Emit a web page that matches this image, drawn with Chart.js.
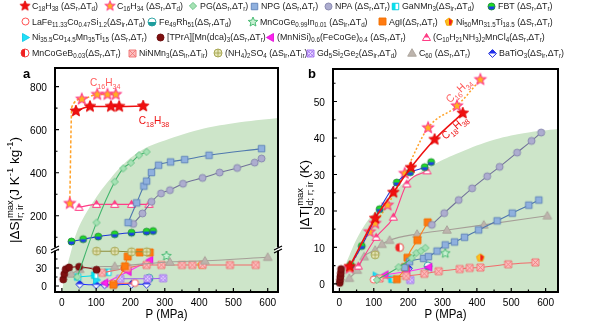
<!DOCTYPE html>
<html>
<head>
<meta charset="utf-8">
<script src="https://cdn.jsdelivr.net/npm/chart.js@4/dist/chart.umd.min.js"></script>
<style>
html,body{margin:0;padding:0;background:#fff;}
#wrap{position:relative;width:600px;height:328px;overflow:hidden;font-family:"Liberation Sans",Arial,sans-serif;}
#wrap canvas.chart{position:absolute;left:0;top:0;}
.lg{position:absolute;font-size:9.8px;line-height:11px;white-space:nowrap;color:#1a1a1a;transform:scaleX(0.9);transform-origin:0 50%;}
.lg sub{font-size:6.9px;vertical-align:-2px;line-height:0;}
.mk{position:absolute;}
</style>
</head>
<body>
<div id="wrap">
  <canvas id="ca" class="chart" width="600" height="328"></canvas>
  <canvas id="cb" class="chart" width="600" height="328"></canvas>
</div>
<script>
// ===================== data =====================
// Panel a: |ΔS| (J K^-1 kg^-1) vs pressure P (MPa)
const ENV_A_P = [0, 10, 28, 45, 70, 100, 130, 180, 236, 300, 400, 500, 640];
const ENV_A_V = [-10, 20, 60, 130, 210, 285, 350, 440, 508, 550, 600, 630, 656];

const C18H38_A_P = [41, 82, 143, 167, 237];
const C18H38_A_V = [687, 708, 708, 708, 710];
const C16H34_A_P = [23, 58, 103, 133, 157];
const C16H34_A_V = [257, 742, 764, 764, 764];
const C16H34_A_PATH_P = [23, 29, 58, 103, 133, 157];
const C16H34_A_PATH_V = [257, 705, 742, 764, 764, 764];
const PG_A_P = [45, 101, 154, 179, 201, 225, 247];
const PG_A_V = [15, 168, 358, 420, 446, 481, 497];
const NPG_A_P = [193, 218, 239, 247, 261, 282, 317, 358, 429, 582];
const NPG_A_V = [168, 260, 338, 361, 401, 435, 450, 461, 481, 512];
const NPA_A_P = [208, 235, 261, 289, 315, 353, 410, 460, 511, 562, 582];
const NPA_A_V = [162, 211, 265, 304, 319, 349, 376, 401, 422, 447, 466];
const FBT_A_P = [28, 62, 106, 154, 203, 247, 266];
const FBT_A_V = [80, 91, 103, 114, 121, 126, 129];
const MNCL_A_P = [50, 101, 154, 203, 254];
const MNCL_A_V = [239, 253, 253, 253, 253];
const TPRA_A_P = [4, 7, 11, 21, 50, 101];
const TPRA_A_V = [11, 20, 28, 31, 32, 27];
const NH4_A_P = [101, 154, 203, 247];
const NH4_A_V = [58, 58, 57, 57];
const AGI_A_P = [150, 184, 192, 227, 256];
const AGI_A_V = [2, 33, 49, 56, 56];
const C60_A_P = [28, 52, 154, 315, 417, 600];
const C60_A_V = [20, 28, 33, 40, 42, 48];
const NINMN3_A_P = [117, 190, 247, 290, 350, 380, 410, 490, 565];
const NINMN3_A_V = [22, 30, 35, 35, 35, 35, 35, 35, 35];
const MNCOGEB_A_P = [184];
const MNCOGEB_A_V = [30];
const NI50_A_P = [407];
const NI50_A_V = [35];
const MNCOGE_A_P = [305];
const MNCOGE_A_V = [50];
const FERH_A_P = [254];
const FERH_A_V = [13];
const GD_A_P = [170, 250, 295];
const GD_A_V = [12, 12, 13];
const LAFE_A_P = [150, 213];
const LAFE_A_V = [4, 5];
const GANMN3_A_P = [46, 96, 134];
const GANMN3_A_V = [15, 18, 23];
const NICO_A_P = [101];
const NICO_A_V = [10];
const MNNISI_A_P = [125, 193, 256];
const MNNISI_A_V = [5, 24, 43];
const BATIO3_A_P = [52, 100, 125, 154, 203, 247];
const BATIO3_A_V = [3, 2, 2, 2, 3, 3];

const TICKS_A_Y = [0, 30, 60, 200, 400, 600, 800];
const MINOR_A_Y = [15, 45, 100, 300, 500, 700];

// Panel b: |ΔT| (K) vs pressure P (MPa)
const ENV_B_P = [0, 10, 30, 60, 100, 150, 200, 274, 350, 450, 550, 640];
const ENV_B_V = [-2, 3, 8, 14, 19.5, 24.5, 28.5, 32.7, 36, 39.5, 41.5, 42.5];

const C18H38_B_P = [30, 104, 157, 208, 277, 359];
const C18H38_B_V = [4.8, 18, 25.1, 31.9, 39.6, 46.8];
const C16H34_B_P = [30, 88, 104, 140, 190, 258, 342, 410];
const C16H34_B_V = [4.3, 14.3, 16.6, 21.6, 30.3, 42.8, 48.8, 56];
const PG_B_P = [109, 172, 210, 224, 237, 250];
const PG_B_V = [1.1, 4.6, 7.1, 8.5, 9.0, 9.9];
const NPG_B_P = [190, 204, 245, 259, 284, 308, 335, 364, 405, 459, 503, 551, 580];
const NPG_B_V = [4.5, 6.1, 7.0, 7.5, 9.0, 10.7, 11.5, 12.8, 14.8, 17.3, 19.4, 21.6, 23.0];
const NPA_B_P = [269, 305, 347, 386, 430, 466, 517, 559, 587];
const NPA_B_V = [16.2, 19.4, 23, 26.2, 29.5, 32.1, 36, 39.2, 41.5];
const FBT_B_P = [33, 65, 117, 167, 206, 248, 267];
const FBT_B_V = [5.2, 10.4, 20.5, 27.8, 30.6, 32, 33.4];
const MNCL_B_P = [55, 107, 157, 196, 255];
const MNCL_B_V = [4.9, 12.8, 18.3, 27.4, 31];
const TPRA_B_P = [1, 2, 3, 4, 5];
const TPRA_B_V = [0.3, 1.2, 2.1, 3.0, 4.1];
const NH4_B_P = [104];
const NH4_B_V = [8];
const AGI_B_P = [167, 191, 198, 227, 257];
const AGI_B_V = [1.3, 4.6, 7.2, 12, 16.9];
const C60_B_P = [29, 52, 72, 104, 124, 146, 226, 313, 420, 605];
const C60_B_V = [1.6, 3.8, 7.5, 9.3, 10.9, 12, 13.7, 14.8, 16.2, 18.7];
const NINMN3_B_P = [117, 194, 247, 289, 350, 379, 410, 491, 570];
const NINMN3_B_V = [1.5, 2.2, 2.8, 3.5, 4.1, 4.4, 4.5, 5.4, 5.9];
const MNCOGEB_B_P = [175];
const MNCOGEB_B_V = [10];
const NI50_B_P = [410];
const NI50_B_V = [7.2];
const MNCOGE_B_P = [308];
const MNCOGE_B_V = [8.4];
const FERH_B_P = [258];
const FERH_B_V = [4.9];
const GD_B_P = [206];
const GD_B_V = [1.1];
const LAFE_B_P = [100];
const LAFE_B_V = [1.2];
const GANMN3_B_P = [153];
const GANMN3_B_V = [1.3];
const NICO_B_P = [107];
const NICO_B_V = [2.2];
const MNNISI_B_P = [133, 196, 260];
const MNNISI_B_V = [2.5, 3.4, 4.6];
const BATIO3_B_P = [201];
const BATIO3_B_V = [4.3];

const TICKS_B_Y = [0, 10, 20, 30, 40, 50];
const TICKS_X = [0, 100, 200, 300, 400, 500, 600];

// ===================== markers =====================
function shapePath(g, kind, cx, cy, r) {
  g.beginPath();
  if (kind === 'circle') { g.arc(cx, cy, r, 0, Math.PI * 2); }
  else if (kind === 'square') { g.rect(cx - r, cy - r, 2 * r, 2 * r); }
  else if (kind === 'diamond') { g.moveTo(cx, cy - r * 1.2); g.lineTo(cx + r * 1.2, cy); g.lineTo(cx, cy + r * 1.2); g.lineTo(cx - r * 1.2, cy); g.closePath(); }
  else if (kind === 'triUp') { g.moveTo(cx, cy - r * 1.15); g.lineTo(cx + r * 1.15, cy + r * 0.85); g.lineTo(cx - r * 1.15, cy + r * 0.85); g.closePath(); }
  else if (kind === 'triLeft') { g.moveTo(cx - r * 1.15, cy); g.lineTo(cx + r * 0.85, cy - r * 1.15); g.lineTo(cx + r * 0.85, cy + r * 1.15); g.closePath(); }
  else if (kind === 'triRight') { g.moveTo(cx + r * 1.15, cy); g.lineTo(cx - r * 0.85, cy - r * 1.15); g.lineTo(cx - r * 0.85, cy + r * 1.15); g.closePath(); }
  else if (kind === 'pentagon' || kind === 'star') {
    const steps = kind === 'star' ? 10 : 5;
    for (let i = 0; i < steps; i++) {
      const a = -Math.PI / 2 + i * Math.PI * 2 / steps;
      const rr = (kind === 'star' && i % 2 === 1) ? r * 0.45 : r;
      const x = cx + rr * Math.cos(a), y = cy + rr * Math.sin(a);
      if (i === 0) g.moveTo(x, y); else g.lineTo(x, y);
    }
    g.closePath();
  }
}

function marker(o) {
  const size = o.size || 7;
  const c = document.createElement('canvas');
  const dim = Math.ceil(size + 4);
  c.width = c.height = dim;
  const g = c.getContext('2d');
  const cx = dim / 2, cy = dim / 2, r = size / 2;
  shapePath(g, o.kind, cx, cy, r);
  g.fillStyle = o.fill || '#fff';
  g.fill();
  if (o.half) {
    g.save();
    shapePath(g, o.kind, cx, cy, r);
    g.clip();
    g.fillStyle = o.half.color;
    const d = o.half.side;
    if (d === 'bottom') g.fillRect(0, cy, dim, dim);
    if (d === 'top') g.fillRect(0, 0, dim, cy);
    if (d === 'left') g.fillRect(0, 0, cx, dim);
    if (d === 'right') g.fillRect(cx, 0, dim, dim);
    g.restore();
  }
  if (o.overlay) {
    g.save();
    shapePath(g, o.kind, cx, cy, r);
    g.clip();
    g.strokeStyle = o.stroke;
    g.lineWidth = 0.8;
    g.beginPath();
    if (o.overlay === 'x' || o.overlay === 'hatch') {
      const k = o.overlay === 'hatch' ? [-r, 0, r] : [0];
      k.forEach(s => {
        g.moveTo(cx - r + s, cy - r); g.lineTo(cx + r + s, cy + r);
        g.moveTo(cx + r + s, cy - r); g.lineTo(cx - r + s, cy + r);
      });
    }
    if (o.overlay === 'plus') {
      g.moveTo(cx - r, cy); g.lineTo(cx + r, cy);
      g.moveTo(cx, cy - r); g.lineTo(cx, cy + r);
    }
    g.stroke();
    g.restore();
  }
  shapePath(g, o.kind, cx, cy, r);
  g.strokeStyle = o.stroke || o.fill;
  g.lineWidth = o.lw || 0.9;
  g.stroke();
  return c;
}

const STY = {
  C18H38: { kind: 'star', size: 12, fill: '#f01010', stroke: '#e00000', line: '#ee1111' },
  C16H34: { kind: 'star', size: 11.5, fill: '#ffb020', stroke: '#ff3d8a', line: '#ffa126', lw: 1.1 },
  PG:     { kind: 'diamond', size: 6, fill: '#a6e2b4', stroke: '#62c081', line: '#42b56c' },
  NPG:    { kind: 'square', size: 6.5, fill: '#8fb0de', stroke: '#5b80b8', line: '#4f78ae' },
  NPA:    { kind: 'circle', size: 7, fill: '#adadcf', stroke: '#8585ad', line: '#72729a' },
  GANMN3: { kind: 'square', size: 6.5, fill: '#00e4f0', stroke: '#00c8dc', half: { side: 'right', color: '#ffffff' }, line: '#00dcec' },
  FBT:    { kind: 'circle', size: 7, fill: '#22dd22', stroke: '#1f8f3a', half: { side: 'bottom', color: '#1d3fe8' }, line: '#1d36d8' },
  LAFE:   { kind: 'circle', size: 7, fill: '#ffffff', stroke: '#ff4040', line: '#ff6060' },
  FERH:   { kind: 'circle', size: 8, fill: '#ffffff', stroke: '#1e9d9d', half: { side: 'bottom', color: '#1e9d9d' }, line: '#1e9d9d' },
  MNCOGE: { kind: 'star', size: 10, fill: '#c8f0d2', stroke: '#3cb56a', line: '#3cb56a' },
  AGI:    { kind: 'square', size: 7, fill: '#ff7a10', stroke: '#f07000', line: '#ff8020' },
  NI50:   { kind: 'pentagon', size: 8, fill: '#ffc020', stroke: '#f0a000', half: { side: 'right', color: '#f02020' }, line: '#f0a000' },
  NICO:   { kind: 'triRight', size: 7, fill: '#20e0f8', stroke: '#10c8e8', line: '#20e0f8' },
  TPRA:   { kind: 'circle', size: 7, fill: '#7e1010', stroke: '#6a0a0a', line: '#8a1a1a' },
  MNNISI: { kind: 'triLeft', size: 7, fill: '#ff22ee', stroke: '#e010d8', line: '#ff33f0' },
  MNCL:   { kind: 'triUp', size: 7, fill: '#ff3d88', stroke: '#ff2a78', half: { side: 'bottom', color: '#ffffff' }, line: '#ff3d88' },
  MNCOGEB:{ kind: 'circle', size: 8, fill: '#ffffff', stroke: '#f03030', half: { side: 'left', color: '#f02020' }, line: '#f03030' },
  NINMN3: { kind: 'square', size: 7, fill: '#fbc0c0', stroke: '#f07070', overlay: 'x', line: '#f26b6b' },
  NH4:    { kind: 'circle', size: 8, fill: '#e6e6b8', stroke: '#a0a048', overlay: 'plus', line: '#8e8e3c' },
  GD:     { kind: 'square', size: 7, fill: '#e8d8ff', stroke: '#a070f0', overlay: 'hatch', line: '#9a60f0' },
  C60:    { kind: 'triUp', size: 7.5, fill: '#bdb4ad', stroke: '#a8a098', line: '#a69e97' },
  BATIO3: { kind: 'diamond', size: 6.5, fill: '#2030f0', stroke: '#1020d8', half: { side: 'bottom', color: '#ffffff' }, line: '#2030ff' }
};
const IMG = {};
for (const k in STY) IMG[k] = marker(STY[k]);

// ===================== legend =====================
const LEGEND = [
  ['C18H38', 'C<sub>18</sub>H<sub>38</sub> (ΔS<sub>r</sub>,ΔT<sub>d</sub>)', 25, 6],
  ['C16H34', 'C<sub>16</sub>H<sub>34</sub> (ΔS<sub>r</sub>,ΔT<sub>d</sub>)', 110, 6],
  ['PG', 'PG(ΔS<sub>r</sub>,ΔT<sub>r</sub>)', 193, 6],
  ['NPG', 'NPG (ΔS<sub>r</sub>,ΔT<sub>r</sub>)', 254, 6],
  ['NPA', 'NPA (ΔS<sub>r</sub>,ΔT<sub>r</sub>)', 328, 6],
  ['GANMN3', 'GaNMn<sub>3</sub>(ΔS<sub>ir</sub>,ΔT<sub>d</sub>)', 395, 6],
  ['FBT', 'FBT (ΔS<sub>r</sub>,ΔT<sub>r</sub>)', 491, 6],
  ['LAFE', 'LaFe<sub>11.33</sub>Co<sub>0.47</sub>Si<sub>1.2</sub>(ΔS<sub>ir</sub>,ΔT<sub>d</sub>)', 25, 21.5],
  ['FERH', 'Fe<sub>49</sub>Rh<sub>51</sub>(ΔS<sub>r</sub>,ΔT<sub>d</sub>)', 152, 21.5],
  ['MNCOGE', 'MnCoGe<sub>0.99</sub>In<sub>0.01</sub> (ΔS<sub>ir</sub>,ΔT<sub>d</sub>)', 253, 21.5],
  ['AGI', 'AgI(ΔS<sub>r</sub>,ΔT<sub>r</sub>)', 382, 21.5],
  ['NI50', 'Ni<sub>50</sub>Mn<sub>31.5</sub>Ti<sub>18.5</sub> (ΔS<sub>r</sub>,ΔT<sub>r</sub>)', 449, 21.5],
  ['NICO', 'Ni<sub>35.5</sub>Co<sub>14.5</sub>Mn<sub>35</sub>Ti<sub>15</sub> (ΔS<sub>r</sub>,ΔT<sub>r</sub>)', 25, 37],
  ['TPRA', '[TPrA][Mn(dca)<sub>3</sub>(ΔS<sub>r</sub>,ΔT<sub>r</sub>)', 160, 37],
  ['MNNISI', '(MnNiSi)<sub>0.6</sub>(FeCoGe)<sub>0.4</sub> (ΔS<sub>r</sub>,ΔT<sub>r</sub>)', 270, 37],
  ['MNCL', '(C<sub>10</sub>H<sub>21</sub>NH<sub>3</sub>)<sub>2</sub>MnCl<sub>4</sub>(ΔS<sub>r</sub>,ΔT<sub>r</sub>)', 426, 37],
  ['MNCOGEB', 'MnCoGeB<sub>0.03</sub>(ΔS<sub>r</sub>,ΔT<sub>r</sub>)', 25, 53],
  ['NINMN3', 'NiNMn<sub>3</sub>(ΔS<sub>ir</sub>,ΔT<sub>ir</sub>)', 132, 53],
  ['NH4', '(NH<sub>4</sub>)<sub>2</sub>SO<sub>4</sub> (ΔS<sub>ir</sub>,ΔT<sub>ir</sub>)', 218, 53],
  ['GD', 'Gd<sub>5</sub>Si<sub>2</sub>Ge<sub>2</sub>(ΔS<sub>ir</sub>,ΔT<sub>d</sub>)', 310, 53],
  ['C60', 'C<sub>60</sub> (ΔS<sub>r</sub>,ΔT<sub>r</sub>)', 412, 53],
  ['BATIO3', 'BaTiO<sub>3</sub>(ΔS<sub>ir</sub>,ΔT<sub>r</sub>)', 492, 53]
];
const wrap = document.getElementById('wrap');
LEGEND.forEach(([key, html, x, y]) => {
  const src = IMG[key];
  const m = document.createElement('canvas');
  const s = key === 'C18H38' || key === 'C16H34' ? 0.85 : 1;
  m.width = src.width; m.height = src.height;
  m.getContext('2d').drawImage(src, 0, 0);
  m.className = 'mk';
  m.style.width = (src.width * s) + 'px';
  m.style.height = (src.height * s) + 'px';
  m.style.left = (x - src.width * s / 2) + 'px';
  m.style.top = (y - src.height * s / 2) + 'px';
  wrap.appendChild(m);
  const t = document.createElement('div');
  t.className = 'lg';
  t.innerHTML = html;
  t.style.left = (x + 7) + 'px';
  t.style.top = (y - 6) + 'px';
  wrap.appendChild(t);
});

// ===================== broken y scale =====================
const A_LOW = [-10, 63.3];   // lower segment of panel a
const A_HIGH = [50, 887];    // upper segment of panel a
const A_SPLIT = 44 / 224;    // share of plot height taken by the lower segment

class BrokenLinearScale extends Chart.LinearScale {
  getPixelForValue(v) {
    let d;
    if (v <= A_LOW[1]) d = (v - A_LOW[0]) / (A_LOW[1] - A_LOW[0]) * A_SPLIT;
    else d = A_SPLIT + (v - A_HIGH[0]) / (A_HIGH[1] - A_HIGH[0]) * (1 - A_SPLIT);
    return this.getPixelForDecimal(d);
  }
  getValueForPixel(p) {
    const d = this.getDecimalForPixel(p);
    if (d <= A_SPLIT) return A_LOW[0] + d / A_SPLIT * (A_LOW[1] - A_LOW[0]);
    return A_HIGH[0] + (d - A_SPLIT) / (1 - A_SPLIT) * (A_HIGH[1] - A_HIGH[0]);
  }
  buildTicks() { return TICKS_A_Y.map(v => ({ value: v })); }
}
BrokenLinearScale.id = 'brokenLinear';
BrokenLinearScale.defaults = Chart.LinearScale.defaults;
Chart.register(BrokenLinearScale);

// ===================== helpers =====================
const FONT = '"Liberation Sans", Arial, sans-serif';
const SX = 0.88;   // horizontal squeeze of the axis lettering

function pts(P, V) { return P.map((p, i) => ({ x: p, y: V[i] })); }
function series(key, P, V, extra) {
  const s = STY[key];
  return Object.assign({
    label: key,
    data: pts(P, V),
    showLine: true,
    borderColor: s.line,
    borderWidth: 1.1,
    pointStyle: IMG[key],
    pointRadius: 4,
    pointHoverRadius: 4,
    cubicInterpolationMode: 'monotone',
    order: 1
  }, extra || {});
}
function envelope(P, V) {
  return {
    label: 'envelope',
    data: pts(P, V),
    showLine: true,
    borderWidth: 0,
    borderColor: 'rgba(0,0,0,0)',
    backgroundColor: 'rgb(205,229,201)',
    fill: 'start',
    pointRadius: 0,
    tension: 0.4,
    order: 100
  };
}

// plain text squeezed horizontally
function sText(g, t, x, y, align) {
  const w = g.measureText(t).width * SX;
  const x0 = align === 'center' ? x - w / 2 : align === 'right' ? x - w : x;
  g.save();
  g.translate(x0, y);
  g.scale(SX, 1);
  g.textAlign = 'left';
  g.fillText(t, 0, 0);
  g.restore();
}

// text with sub/superscripts; parts: [text, mode], mode '', 'sub', 'sup' or {sup, sub}
function richText(g, parts, x, y, size, align, sx) {
  const small = size * 0.7;
  let w = 0;
  parts.forEach(([t, m]) => {
    if (typeof m === 'object' && m) {
      g.font = small + 'px ' + FONT;
      w += Math.max(g.measureText(m.sup).width, g.measureText(m.sub).width);
    } else {
      g.font = (m ? small : size) + 'px ' + FONT;
      w += g.measureText(t).width;
    }
  });
  g.save();
  g.translate(align === 'center' ? x - w * sx / 2 : x, y);
  g.scale(sx, 1);
  g.textBaseline = 'alphabetic';
  g.textAlign = 'left';
  let cx = 0;
  parts.forEach(([t, m]) => {
    if (typeof m === 'object' && m) {
      g.font = small + 'px ' + FONT;
      g.fillText(m.sup, cx, -size * 0.42);
      g.fillText(m.sub, cx, size * 0.3);
      cx += Math.max(g.measureText(m.sup).width, g.measureText(m.sub).width);
    } else {
      g.font = (m ? small : size) + 'px ' + FONT;
      const dy = m === 'sub' ? size * 0.3 : m === 'sup' ? -size * 0.42 : 0;
      g.fillText(t, cx, dy);
      cx += g.measureText(t).width;
    }
  });
  g.restore();
}

// frame, inward ticks, tick labels, axis titles, panel letter
function framePlugin(opts) {
  return {
    id: 'frame',
    afterDraw(chart) {
      const g = chart.ctx, a = chart.chartArea;
      const xs = chart.scales.x, ys = chart.scales.y;
      g.save();
      g.strokeStyle = '#000';
      g.lineWidth = 1.2;
      g.beginPath();
      opts.xMinor.forEach(v => { const p = xs.getPixelForValue(v); g.moveTo(p, a.bottom); g.lineTo(p, a.bottom - 2.5); });
      opts.yMinor.forEach(v => { const p = ys.getPixelForValue(v); g.moveTo(a.left, p); g.lineTo(a.left + 2.5, p); });
      xs.ticks.forEach(t => { const p = xs.getPixelForValue(t.value); g.moveTo(p, a.bottom); g.lineTo(p, a.bottom - 4); });
      ys.ticks.forEach(t => { const p = ys.getPixelForValue(t.value); g.moveTo(a.left, p); g.lineTo(a.left + 4, p); });
      g.stroke();
      g.lineWidth = 2;
      g.strokeRect(a.left, a.top, a.right - a.left, a.bottom - a.top);
      if (opts.breakAt) {
        const yb = opts.breakAt;
        [a.left, a.right].forEach(x => {
          g.fillStyle = '#fff';
          g.fillRect(x - 3, yb - 1.5, 6, 3);
          g.lineWidth = 1.2;
          g.beginPath();
          g.moveTo(x - 4, yb + 1); g.lineTo(x + 4, yb - 3);
          g.moveTo(x - 4, yb + 4); g.lineTo(x + 4, yb);
          g.stroke();
        });
      }
      g.fillStyle = '#000';
      g.textBaseline = 'alphabetic';
      g.font = '11.5px ' + FONT;
      xs.ticks.forEach(t => sText(g, String(t.value), xs.getPixelForValue(t.value), a.bottom + 13.5, 'center'));
      ys.ticks.forEach(t => sText(g, String(t.value), a.left - 8, ys.getPixelForValue(t.value) + 4.2, 'right'));
      g.font = '13px ' + FONT;
      sText(g, 'P (MPa)', (a.left + a.right) / 2, 318, 'center');
      g.save();
      g.translate(opts.yTitleX, opts.yTitleY);
      g.rotate(-Math.PI / 2);
      richText(g, opts.yTitle, 0, 0, 13.5, 'center', 1);
      g.restore();
      g.font = 'bold 13px ' + FONT;
      g.textAlign = 'left';
      g.fillText(opts.letter, opts.letterX, opts.letterY);
      (opts.notes || []).forEach(n => {
        g.save();
        g.fillStyle = n.color;
        g.translate(xs.getPixelForValue(n.x), ys.getPixelForValue(n.y));
        g.rotate(n.rot || 0);
        richText(g, n.parts, 0, 0, 11, n.align || 'left', 0.92);
        g.restore();
      });
      g.restore();
    }
  };
}

function baseOptions(pad, yWidth, xMin, xMax, yScale) {
  return {
    responsive: false,
    animation: false,
    devicePixelRatio: 1,
    layout: { padding: pad },
    plugins: { legend: { display: false }, tooltip: { enabled: false } },
    scales: {
      x: {
        type: 'linear', min: xMin, max: xMax,
        afterBuildTicks: s => { s.ticks = TICKS_X.map(v => ({ value: v })); },
        afterFit: s => { s.height = 36; },
        grid: { display: false, drawTicks: false },
        border: { display: false },
        ticks: { display: false }
      },
      y: Object.assign({
        afterFit: s => { s.width = yWidth; },
        grid: { display: false, drawTicks: false },
        border: { display: false },
        ticks: { display: false }
      }, yScale)
    }
  };
}

// ===================== panel a =====================
const dsA = [
  envelope(ENV_A_P, ENV_A_V),
  { label: 'C16H34 path', data: pts(C16H34_A_PATH_P, C16H34_A_PATH_V), showLine: true, borderColor: STY.C16H34.line, borderWidth: 1.5, borderDash: [3, 2], pointRadius: 0, cubicInterpolationMode: 'monotone', order: 2 },
  series('C16H34', C16H34_A_P, C16H34_A_V, { showLine: false, pointRadius: 6 }),
  series('C18H38', C18H38_A_P, C18H38_A_V, { borderWidth: 1.6, pointRadius: 6 }),
  series('PG', PG_A_P, PG_A_V),
  series('NPG', NPG_A_P, NPG_A_V),
  series('NPA', NPA_A_P, NPA_A_V),
  series('FBT', FBT_A_P, FBT_A_V),
  series('MNCL', MNCL_A_P, MNCL_A_V),
  series('TPRA', TPRA_A_P, TPRA_A_V),
  series('NH4', NH4_A_P, NH4_A_V),
  series('AGI', AGI_A_P, AGI_A_V),
  series('C60', C60_A_P, C60_A_V),
  series('NINMN3', NINMN3_A_P, NINMN3_A_V),
  series('GD', GD_A_P, GD_A_V),
  series('LAFE', LAFE_A_P, LAFE_A_V),
  series('GANMN3', GANMN3_A_P, GANMN3_A_V),
  series('NICO', NICO_A_P, NICO_A_V),
  series('MNNISI', MNNISI_A_P, MNNISI_A_V),
  series('BATIO3', BATIO3_A_P, BATIO3_A_V),
  series('MNCOGEB', MNCOGEB_A_P, MNCOGEB_A_V),
  series('NI50', NI50_A_P, NI50_A_V),
  series('MNCOGE', MNCOGE_A_P, MNCOGE_A_V),
  series('FERH', FERH_A_P, FERH_A_V)
];
const optA = baseOptions({ left: 0, right: 322, top: 68, bottom: 0 }, 55, -20, 630,
  { type: 'brokenLinear', min: -10, max: 887 });
new Chart(document.getElementById('ca'), {
  type: 'scatter',
  data: { datasets: dsA },
  options: optA,
  plugins: [framePlugin({
    xMinor: [50, 150, 250, 350, 450, 550],
    yMinor: MINOR_A_Y,
    breakAt: 249,
    yTitleX: 19, yTitleY: 190,
    yTitle: [['|ΔS|', ''], ['', { sup: 'max', sub: 'r; ir' }], ['(J K', ''], ['-1', 'sup'], [' kg', ''], ['-1', 'sup'], [')', '']],
    letter: 'a', letterX: 23, letterY: 78,
    notes: [
      { x: 82, y: 805, color: '#ff5a5a', parts: [['C', ''], ['16', 'sub'], ['H', ''], ['34', 'sub']] },
      { x: 224, y: 628, color: '#ee1111', parts: [['C', ''], ['18', 'sub'], ['H', ''], ['38', 'sub']] }
    ]
  })]
});

// ===================== panel b =====================
const dsB = [
  envelope(ENV_B_P, ENV_B_V),
  series('C16H34', C16H34_B_P, C16H34_B_V, { borderWidth: 1.5, borderDash: [2, 2], pointRadius: 6, order: 2 }),
  series('C18H38', C18H38_B_P, C18H38_B_V, { borderWidth: 1.6, pointRadius: 6 }),
  series('PG', PG_B_P, PG_B_V),
  series('NPG', NPG_B_P, NPG_B_V),
  series('NPA', NPA_B_P, NPA_B_V),
  series('FBT', FBT_B_P, FBT_B_V),
  series('MNCL', MNCL_B_P, MNCL_B_V),
  series('TPRA', TPRA_B_P, TPRA_B_V),
  series('NH4', NH4_B_P, NH4_B_V),
  series('AGI', AGI_B_P, AGI_B_V),
  series('C60', C60_B_P, C60_B_V),
  series('NINMN3', NINMN3_B_P, NINMN3_B_V),
  series('GD', GD_B_P, GD_B_V),
  series('LAFE', LAFE_B_P, LAFE_B_V),
  series('GANMN3', GANMN3_B_P, GANMN3_B_V),
  series('NICO', NICO_B_P, NICO_B_V),
  series('MNNISI', MNNISI_B_P, MNNISI_B_V),
  series('BATIO3', BATIO3_B_P, BATIO3_B_V),
  series('MNCOGEB', MNCOGEB_B_P, MNCOGEB_B_V),
  series('NI50', NI50_B_P, NI50_B_V),
  series('MNCOGE', MNCOGE_B_P, MNCOGE_B_V),
  series('FERH', FERH_B_P, FERH_B_V)
];
const optB = baseOptions({ left: 290, right: 42, top: 69, bottom: 0 }, 43, -18.6, 636,
  { type: 'linear', min: -2.2, max: 58.9,
    afterBuildTicks: s => { s.ticks = TICKS_B_Y.map(v => ({ value: v })); } });
new Chart(document.getElementById('cb'), {
  type: 'scatter',
  data: { datasets: dsB },
  options: optB,
  plugins: [framePlugin({
    xMinor: [50, 150, 250, 350, 450, 550],
    yMinor: [5, 15, 25, 35, 45, 55],
    yTitleX: 309, yTitleY: 195,
    yTitle: [['|ΔT|', ''], ['', { sup: 'max', sub: 'd; r; ir' }], [' (K)', '']],
    letter: 'b', letterX: 308, letterY: 78,
    notes: [
      { x: 354, y: 52.3, color: '#ff5a5a', rot: -0.75, align: 'center', parts: [['C', ''], ['16', 'sub'], ['H', ''], ['34', 'sub']] },
      { x: 342, y: 42.2, color: '#ee1111', rot: -0.72, align: 'center', parts: [['C', ''], ['18', 'sub'], ['H', ''], ['38', 'sub']] }
    ]
  })]
});
</script>
</body>
</html>
